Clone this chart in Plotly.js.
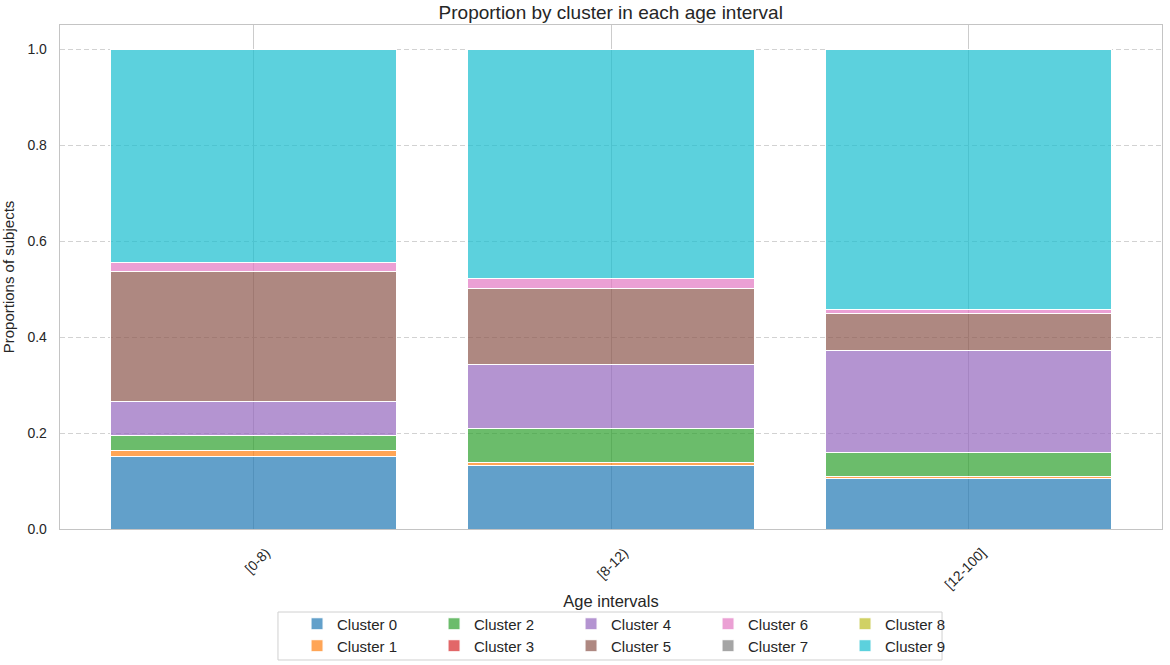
<!DOCTYPE html>
<html>
<head>
<meta charset="utf-8">
<script src="https://cdn.plot.ly/plotly-3.0.1.min.js"></script>
<style>
  html, body { margin: 0; padding: 0; background: #fff; }
  #plot { width: 1170px; height: 665px; }
</style>
</head>
<body>
<div id="plot"></div>
<script>
// age intervals on the x axis
const ageIntervals = ["[0-8)", "[8-12)", "[12-100]"];

// proportion of subjects per cluster, one value per age interval
const cluster0 = [0.151, 0.132, 0.105];
const cluster1 = [0.012, 0.006, 0.005];
const cluster2 = [0.031, 0.072, 0.050];
const cluster3 = [0.000, 0.000, 0.000];
const cluster4 = [0.071, 0.132, 0.212];
const cluster5 = [0.272, 0.159, 0.078];
const cluster6 = [0.019, 0.021, 0.007];
const cluster7 = [0.000, 0.000, 0.000];
const cluster8 = [0.000, 0.000, 0.000];
const cluster9 = [0.444, 0.478, 0.543];

const clusterNames = ["Cluster 0", "Cluster 1", "Cluster 2", "Cluster 3", "Cluster 4",
                      "Cluster 5", "Cluster 6", "Cluster 7", "Cluster 8", "Cluster 9"];
const clusterValues = [cluster0, cluster1, cluster2, cluster3, cluster4,
                       cluster5, cluster6, cluster7, cluster8, cluster9];

// tab10 colours with alpha 0.7
const colors = [
    "rgba(31,119,180,0.7)", "rgba(255,127,14,0.7)", "rgba(44,160,44,0.7)",
    "rgba(214,39,40,0.7)", "rgba(148,103,189,0.7)", "rgba(140,86,75,0.7)",
    "rgba(227,119,194,0.7)", "rgba(127,127,127,0.7)", "rgba(188,189,34,0.7)",
    "rgba(23,190,207,0.7)"
];

// matplotlib fills the legend column by column: even clusters on row 1, odd on row 2
let traces = clusterNames.map((name, i) => ({
    type: "bar",
    name: name,
    x: [0, 1, 2],
    y: clusterValues[i],
    width: 0.8,
    marker: {
        color: colors[i],
        line: {color: "white", width: 1}
    },
    legend: (i % 2 === 0) ? "legend" : "legend2",
    hoverinfo: "name+y"
}));

const font = "Liberation Sans, Arial, sans-serif";
const textColor = "#262626";

let legendRow = (y) => ({
    orientation: "h",
    x: 0.2151, xanchor: "left",
    y: y, yanchor: "middle",
    traceorder: "normal",
    entrywidth: 92,
    entrywidthmode: "pixels",
    borderwidth: 0,
    bgcolor: "rgba(0,0,0,0)",
    font: {family: font, size: 15, color: textColor}
});

let layout = {
    width: 1170,
    height: 665,
    barmode: "stack",
    paper_bgcolor: "white",
    plot_bgcolor: "white",
    font: {family: font, size: 14, color: textColor},
    margin: {l: 60, r: 8, t: 25, b: 136, autoexpand: false},
    title: {
        text: "Proportion by cluster in each age interval",
        font: {family: font, size: 19, color: textColor},
        x: 0.522, xanchor: "center",
        y: 0.982, yanchor: "middle"
    },
    xaxis: {
        automargin: false,
        range: [-0.54, 2.54],
        tickvals: [0, 1, 2],
        ticktext: ageIntervals,
        tickangle: -45,
        ticklabelshift: 13,
        ticklabelstandoff: 9,
        ticks: "",
        showgrid: true,
        gridcolor: "#cccccc",
        gridwidth: 1,
        showline: true,
        mirror: true,
        linecolor: "#c4c4c4",
        linewidth: 1.3,
        zeroline: false,
        tickfont: {family: font, size: 14, color: textColor},
        title: {
            text: "Age intervals",
            font: {family: font, size: 16.5, color: textColor},
            standoff: 4
        }
    },
    yaxis: {
        automargin: false,
        range: [0, 1.05],
        tickvals: [0, 0.2, 0.4, 0.6, 0.8, 1.0],
        tickformat: ".1f",
        ticks: "",
        ticklabelstandoff: 9,
        showgrid: true,
        gridcolor: "#d2d2d2",
        gridwidth: 1,
        griddash: "5px,3px",
        showline: true,
        mirror: true,
        linecolor: "#c4c4c4",
        linewidth: 1.3,
        zeroline: false,
        tickfont: {family: font, size: 14, color: textColor},
        title: {
            text: "Proportions of subjects",
            font: {family: font, size: 15, color: textColor},
            standoff: 10
        }
    },
    legend: legendRow(-0.1885),
    legend2: legendRow(-0.2321),
    // frame around the two legend rows
    shapes: [{
        type: "rect",
        xref: "paper", yref: "paper",
        x0: 0.1978, x1: 0.8004,
        y0: -0.1647, y1: -0.2599,
        line: {color: "#d0d0d0", width: 1},
        fillcolor: "rgba(0,0,0,0)"
    }],
    showlegend: true
};

Plotly.newPlot("plot", traces, layout, {displayModeBar: false, staticPlot: true});
</script>
</body>
</html>
